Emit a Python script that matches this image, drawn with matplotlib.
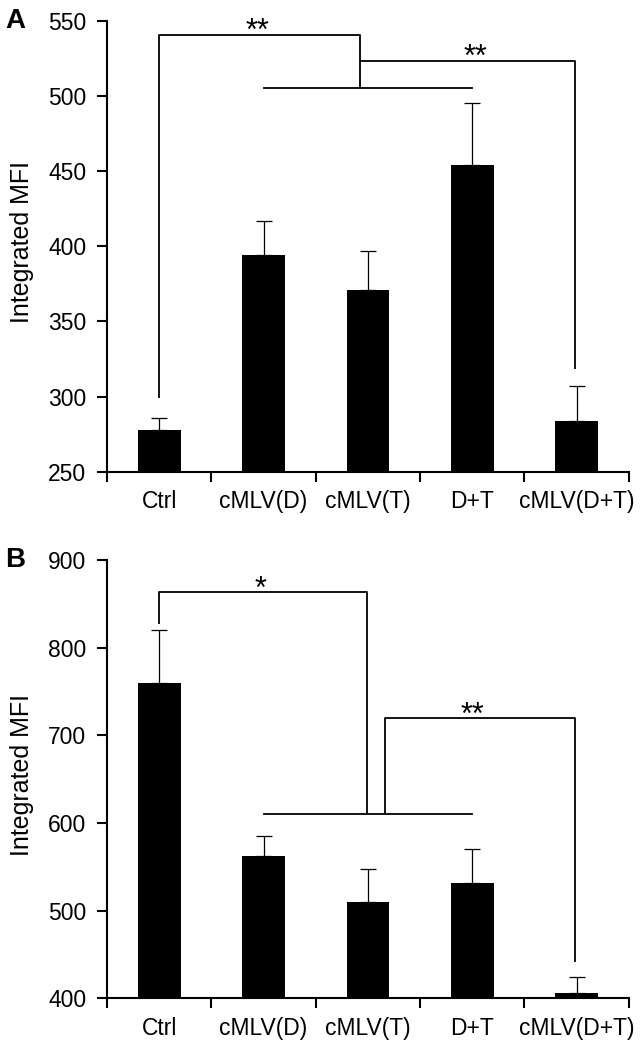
import numpy as np
import matplotlib
matplotlib.use("Agg")
import matplotlib.pyplot as plt
from matplotlib.ticker import FixedLocator

plt.rcParams["font.family"] = ["Liberation Sans", "DejaVu Sans"]

# ── Data ────────────────────────────────────────────────────────────────
groups = ["Ctrl", "cMLV(D)", "cMLV(T)", "D+T", "cMLV(D+T)"]

mfi_a = [278, 394, 371, 454, 284]
err_a = [8, 23, 26, 41, 23]

mfi_b = [760, 563, 510, 532, 406]
err_b = [60, 22, 38, 38, 18]

# significance brackets: (x positions, y levels) in data units
# panel A
brk_a_main = dict(x0=0, x1=1.92, y_top=540.4, y_left=299, y_right=505)
brk_a_low = dict(x0=1, x1=3, y=505)
brk_a_second = dict(x0=1.92, x1=3.98, y_top=523, y_left=523, y_right=318)
stars_a = [(0.94, 537.5, "**"), (3.03, 520, "**")]

# panel B
brk_b_main = dict(x0=0, x1=1.99, y_top=863.6, y_left=827, y_right=610)
brk_b_low = dict(x0=1, x1=3, y=610)
brk_b_second = dict(x0=2.16, x1=3.98, y_top=719.3, y_left=610, y_right=442)
stars_b = [(0.97, 857, "*"), (3.0, 713, "**")]

LW_BRK = 1.3


def draw_bracket(ax, b):
    ax.plot([b["x0"], b["x0"], b["x1"], b["x1"]],
            [b["y_left"], b["y_top"], b["y_top"], b["y_right"]],
            color="black", lw=LW_BRK, solid_capstyle="butt", zorder=4)


def draw_panel(ax, values, errs, ylim, step, letter, brackets, low, stars):
    x = np.arange(len(groups))
    ax.bar(x, values, width=0.41, color="black", zorder=3)
    ax.errorbar(x, values, yerr=[np.zeros(len(errs)), errs], fmt="none",
                ecolor="black", elinewidth=0.9, capsize=6, capthick=0.9,
                zorder=2)

    for b in brackets:
        draw_bracket(ax, b)
    ax.plot([low["x0"], low["x1"]], [low["y"], low["y"]],
            color="black", lw=LW_BRK, zorder=4)
    for sx, sy, s in stars:
        ax.text(sx, sy, s, ha="center", va="baseline", fontsize=22,
                color="black")

    ax.set_xlim(-0.5, 4.5)
    ax.set_ylim(*ylim)
    ax.set_yticks(np.arange(ylim[0], ylim[1] + 1, step))
    ax.set_xticks(x)
    ax.set_xticklabels(groups, fontsize=16.5)
    ax.xaxis.set_minor_locator(FixedLocator(np.arange(-0.5, 4.6, 1.0)))
    ax.tick_params(axis="x", which="major", length=0, pad=13)
    ax.tick_params(axis="x", which="minor", length=7, width=1.5,
                   direction="out")
    ax.tick_params(axis="y", length=7, width=1.5, labelsize=16.5, pad=8)

    for side in ("top", "right"):
        ax.spines[side].set_visible(False)
    for side in ("left", "bottom"):
        ax.spines[side].set_linewidth(1.5)

    ax.set_ylabel("Integrated MFI", fontsize=18)
    ax.yaxis.set_label_coords(-0.14, 0.51)
    ax.text(-0.195, 1.0, letter, transform=ax.transAxes, fontsize=20,
            fontweight="bold", ha="left", va="center")


fig = plt.figure(figsize=(6.43, 10.45), dpi=100)
ax_a = fig.add_axes([0.1664, 0.5486, 0.8116, 0.4316])
ax_b = fig.add_axes([0.1664, 0.0445, 0.8116, 0.4196])

draw_panel(ax_a, mfi_a, err_a, (250, 550), 50, "A",
           [brk_a_main, brk_a_second], brk_a_low, stars_a)
draw_panel(ax_b, mfi_b, err_b, (400, 900), 100, "B",
           [brk_b_main, brk_b_second], brk_b_low, stars_b)

fig.savefig("out.png", dpi=100, facecolor="white")
